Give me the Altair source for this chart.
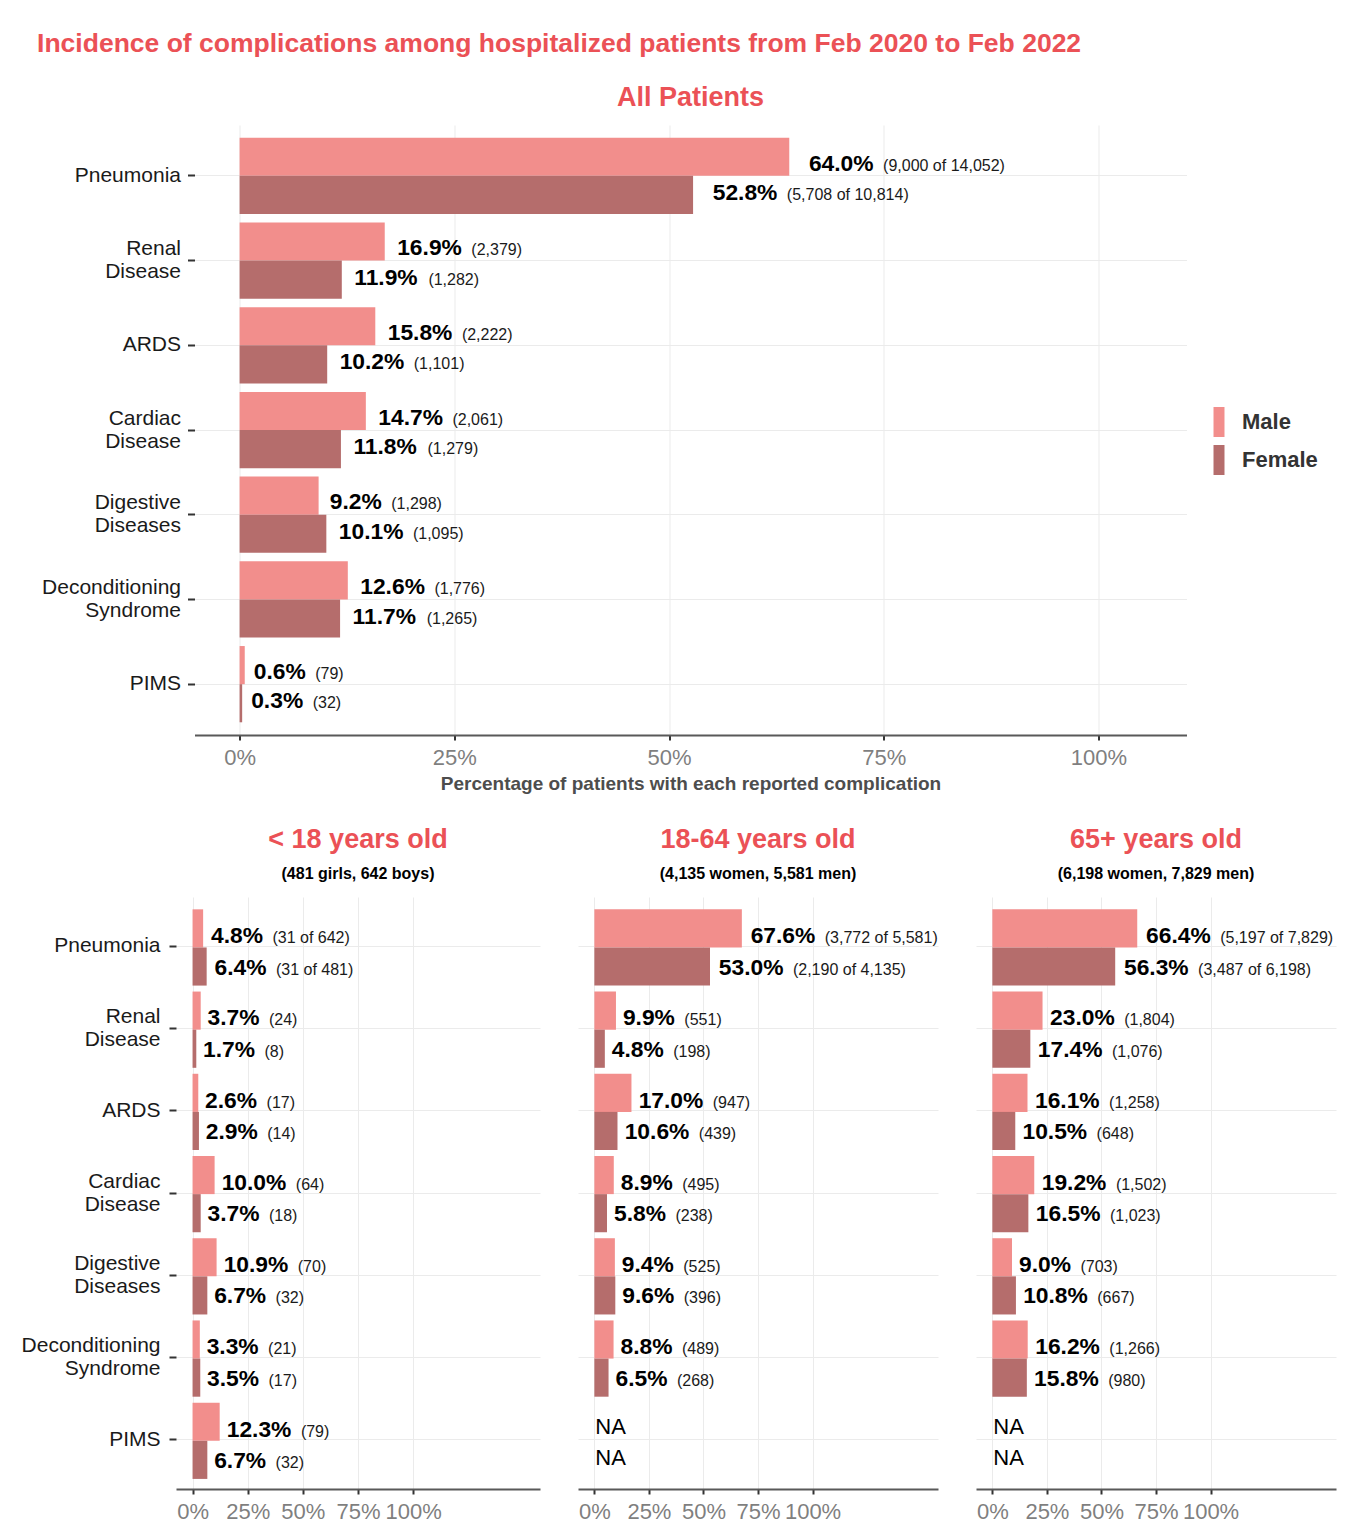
import altair as alt
import pandas as pd

FONT = "Liberation Sans"
RED = "#EB5156"
MALE = "#F28E8C"
FEMALE = "#B56D6C"
GRID = "#EBEBEB"

conditions = ["Pneumonia", "Renal Disease", "ARDS", "Cardiac Disease",
              "Digestive Diseases", "Deconditioning Syndrome", "PIMS"]
sexes = ["Male", "Female"]
tick_values = [0, 25, 50, 75, 100]

# All patients
all_male_pct = [64.0, 16.9, 15.8, 14.7, 9.2, 12.6, 0.6]
all_female_pct = [52.8, 11.9, 10.2, 11.8, 10.1, 11.7, 0.3]
all_male_n = [9000, 2379, 2222, 2061, 1298, 1776, 79]
all_female_n = [5708, 1282, 1101, 1279, 1095, 1265, 32]
all_male_total = 14052
all_female_total = 10814

# < 18 years old
u18_male_pct = [4.8, 3.7, 2.6, 10.0, 10.9, 3.3, 12.3]
u18_female_pct = [6.4, 1.7, 2.9, 3.7, 6.7, 3.5, 6.7]
u18_male_n = [31, 24, 17, 64, 70, 21, 79]
u18_female_n = [31, 8, 14, 18, 32, 17, 32]
u18_male_total = 642
u18_female_total = 481

# 18-64 years old
mid_male_pct = [67.6, 9.9, 17.0, 8.9, 9.4, 8.8, None]
mid_female_pct = [53.0, 4.8, 10.6, 5.8, 9.6, 6.5, None]
mid_male_n = [3772, 551, 947, 495, 525, 489, None]
mid_female_n = [2190, 198, 439, 238, 396, 268, None]
mid_male_total = 5581
mid_female_total = 4135

# 65+ years old
old_male_pct = [66.4, 23.0, 16.1, 19.2, 9.0, 16.2, None]
old_female_pct = [56.3, 17.4, 10.5, 16.5, 10.8, 15.8, None]
old_male_n = [5197, 1804, 1258, 1502, 703, 1266, None]
old_female_n = [3487, 1076, 648, 1023, 667, 980, None]
old_male_total = 7829
old_female_total = 6198

BOLD = 22.8
SMALL = 16


def build(male_pct, female_pct, male_n, female_n, male_total, female_total):
    rows = []
    for i, c in enumerate(conditions):
        for sex, pcts, ns, tot in (("Male", male_pct, male_n, male_total),
                                   ("Female", female_pct, female_n, female_total)):
            p, n = pcts[i], ns[i]
            if p is None:
                rows.append(dict(cond=c, sex=sex, pct=None, pct_lbl="", cnt_lbl=""))
            else:
                cnt = f"({n:,} of {tot:,})" if i == 0 else f"({n:,})"
                rows.append(dict(cond=c, sex=sex, pct=p, pct_lbl=f"{p:.1f}%", cnt_lbl=cnt))
    return pd.DataFrame(rows)


def x_axis(title):
    return alt.Axis(title=title, values=tick_values, labelExpr="datum.value + '%'",
                    grid=True, gridColor=GRID, gridWidth=1, domainColor="#595959",
                    domainWidth=2, tickColor="#333333", tickWidth=2, tickSize=5,
                    labelFontSize=22, labelColor="#7F7F7F", labelPadding=7,
                    labelFlush=False, titleFontSize=19, titleFontWeight="bold",
                    titleColor="#4D4D4D", titlePadding=6)


def y_axis(label_pad):
    if label_pad is not None:
        return alt.Axis(title=None, labelExpr="split(datum.label, ' ')",
                        labelFontSize=21, labelColor="#1A1A1A", labelLineHeight=23,
                        labelBaseline="middle",
                        labelOffset={"condition": {"test": "indexof(datum.value, ' ') >= 0",
                                                   "value": -11.5}, "value": 0},
                        tickSize=7, tickWidth=2, tickColor="#333333",
                        labelPadding=label_pad, domain=False, grid=True,
                        gridColor=GRID, bandPosition=0.5)
    return alt.Axis(title=None, labels=False, ticks=False, domain=False, grid=True,
                    gridColor=GRID, bandPosition=0.5, minExtent=0, maxExtent=0)


def panel(df, width, height, domain, gap_base, gap_frac, label_pad, reserve,
          x_title, title, legend, dys, na_dys):
    ppu = width / (domain[1] - domain[0])
    xs = alt.Scale(domain=domain, nice=False)
    xa = x_axis(x_title)
    y = alt.Y("cond:N", sort=conditions, title=None,
              scale=alt.Scale(paddingInner=0.1, paddingOuter=0.15),
              axis=y_axis(label_pad))
    yoff = alt.YOffset("sex:N", sort=sexes,
                       scale=alt.Scale(paddingInner=0, paddingOuter=0))
    base = alt.Chart(df)
    layers = [base.mark_bar().encode(
        x=alt.X("pct:Q", scale=xs, axis=xa, title=x_title),
        y=y, yOffset=yoff,
        color=alt.Color("sex:N", scale=alt.Scale(domain=sexes, range=[MALE, FEMALE]),
                        legend=legend),
    )]
    for sex, dy, ndy in zip(sexes, dys, na_dys):
        calc = (base.transform_filter(f"datum.sex == '{sex}' && isValid(datum.pct)")
                .transform_calculate(
                    bw=f"{BOLD}*(0.556*(length(datum.pct_lbl)-2)+1.167)",
                    sw=f"{SMALL}*0.45*length(datum.cnt_lbl)")
                .transform_calculate(gap=f"{gap_base}+{gap_frac}*(datum.bw+9.5+datum.sw)")
                .transform_calculate(
                    xb=f"datum.pct+datum.gap/{ppu}",
                    xsm=f"datum.pct+(datum.gap+datum.bw+9.5)/{ppu}"))
        layers.append(calc.mark_text(align="left", baseline="alphabetic", fontSize=BOLD,
                                     fontWeight="bold", color="#000000", dy=dy).encode(
            x=alt.X("xb:Q", scale=xs, axis=xa, title=x_title), y=y, yOffset=yoff,
            text="pct_lbl:N"))
        layers.append(calc.mark_text(align="left", baseline="alphabetic", fontSize=SMALL,
                                     color="#1A1A1A", dy=dy).encode(
            x=alt.X("xsm:Q", scale=xs, axis=xa, title=x_title), y=y, yOffset=yoff,
            text="cnt_lbl:N"))
        layers.append(base.transform_filter(f"datum.sex == '{sex}' && !isValid(datum.pct)")
                      .transform_calculate(x0="0")
                      .mark_text(align="left", baseline="alphabetic", fontSize=22,
                                 color="#000000", dy=ndy, dx=1)
                      .encode(x=alt.X("x0:Q", scale=xs, axis=xa, title=x_title), y=y,
                              yOffset=yoff, text=alt.value("NA")))
    for px in reserve:
        # invisible spacers that reserve room around the panel (layout only)
        layers.append(base.mark_rule(opacity=0).encode(
            x=alt.value(px), y=alt.value(0), y2=alt.value(1)))
    return alt.layer(*layers).properties(width=width, height=height, title=title)


legend = alt.Legend(title=None, orient="none", legendX=1032, legendY=286,
                    symbolType="M-1,-2.73H1V2.73H-1Z", symbolSize=121,
                    symbolStrokeWidth=0, symbolOpacity=1, labelFontSize=22,
                    labelFontWeight="bold", labelColor="#333333", labelOffset=12,
                    rowPadding=6, padding=0)

top = panel(build(all_male_pct, all_female_pct, all_male_n, all_female_n,
                  all_male_total, all_female_total),
            992, 610, [-5.25, 110.25], 0, 0.1, 7, (-172, 1123),
            "Percentage of patients with each reported complication",
            alt.TitleParams("All Patients", anchor="middle", frame="group",
                            fontSize=27, fontWeight="bold", color=RED, offset=13),
            legend, (13.8, 5.1), (12.5, 5.3))


def sub_title(t, s):
    return alt.TitleParams(t, subtitle=s, anchor="middle", frame="group",
                           fontSize=27, fontWeight="bold", color=RED,
                           subtitleFontSize=16, subtitleFontWeight="bold",
                           subtitleColor="#000000", subtitlePadding=12,
                           subtitleFont=FONT, offset=14)


BH = 592
p1 = panel(build(u18_male_pct, u18_female_pct, u18_male_n, u18_female_n,
                 u18_male_total, u18_female_total),
           364, BH, [-7.5, 157.5], 5, 0.02, 9, (), None,
           sub_title("< 18 years old", "(481 girls, 642 boys)"), None,
           (14.8, 8.0), (12.5, 5.3))
p2 = panel(build(mid_male_pct, mid_female_pct, mid_male_n, mid_female_n,
                 mid_male_total, mid_female_total),
           360, BH, [-7.5, 157.5], 5, 0.02, None, (), None,
           sub_title("18-64 years old", "(4,135 women, 5,581 men)"), None,
           (14.8, 8.0), (12.5, 5.3))
p3 = panel(build(old_male_pct, old_female_pct, old_male_n, old_female_n,
                 old_male_total, old_female_total),
           360, BH, [-7.5, 157.5], 5, 0.02, None, (), None,
           sub_title("65+ years old", "(6,198 women, 7,829 men)"), None,
           (14.8, 8.0), (12.5, 5.3))

bottom = alt.hconcat(p1, p2, p3, spacing=38)

chart = (alt.vconcat(top, bottom, spacing=33, center=True)
         .properties(
             title=alt.TitleParams(
                 "Incidence of complications among hospitalized patients from Feb 2020 to Feb 2022",
                 anchor="start", fontSize=26.5, fontWeight="bold", color=RED, dx=16,
                 offset=27),
             padding={"left": 13, "top": 22, "right": 4, "bottom": 0})
         .configure(font=FONT)
         .configure_view(stroke=None))

chart.save("out.html", embed_options={"renderer": "svg", "actions": False})
